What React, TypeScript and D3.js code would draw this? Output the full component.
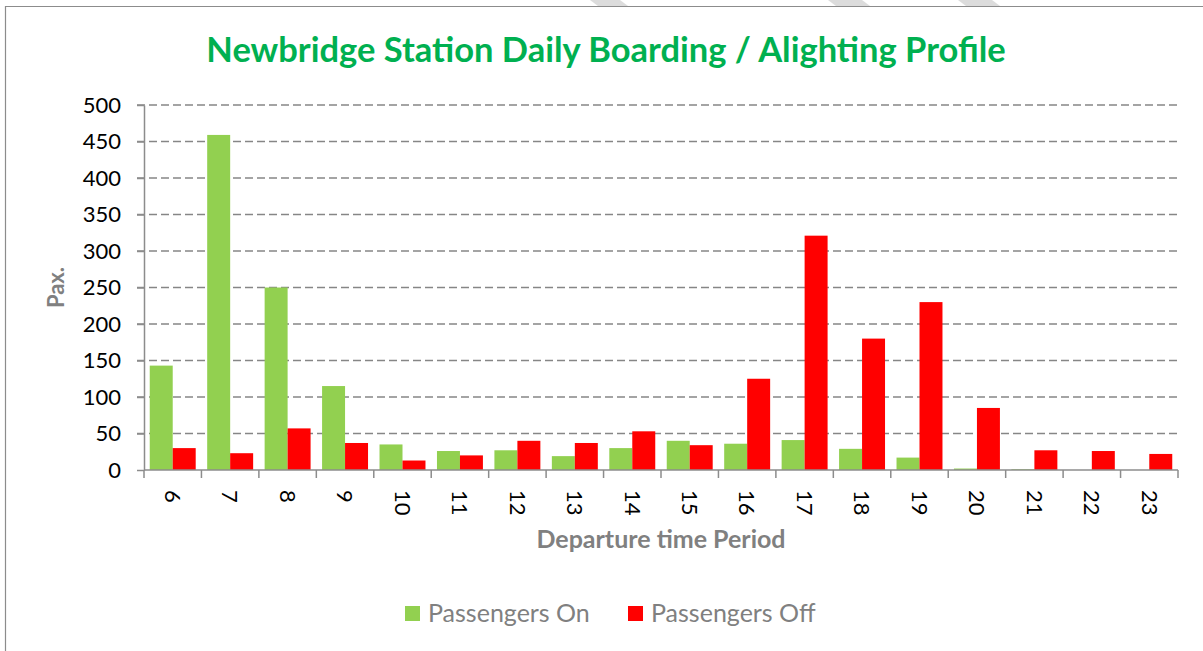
import { useEffect, useRef } from 'react'
import * as d3 from 'd3'

const hours = ['6', '7', '8', '9', '10', '11', '12', '13', '14', '15', '16', '17', '18', '19', '20', '21', '22', '23']
const passengersOn = [143, 459, 250, 115, 35, 26, 27, 19, 30, 40, 36, 41, 29, 17, 2, 1, 0, 0]
const passengersOff = [30, 23, 57, 37, 13, 20, 40, 37, 53, 34, 125, 321, 180, 230, 85, 27, 26, 22]
const yTicks = [0, 50, 100, 150, 200, 250, 300, 350, 400, 450, 500]
const seriesNames = ['Passengers On', 'Passengers Off']
const seriesColors = ['#92D050', '#FF0000']

const FONT = 'Lato, "Open Sans", sans-serif'

export default function App() {
  const svgRef = useRef<SVGSVGElement>(null)
  const width = 1203
  const height = 651
  const margin = { top: 105, right: 25, bottom: 181, left: 144 }

  useEffect(() => {
    const svg = d3.select(svgRef.current)
    svg.selectAll('*').remove()

    const w = width - margin.left - margin.right
    const h = height - margin.top - margin.bottom

    // frame + watermark bits at top
    const stripes = [590, 828, 958]
    svg.selectAll('path.wm')
      .data(stripes)
      .enter()
      .append('path')
      .attr('class', 'wm')
      .attr('d', (d, i) => {
        const wd = i === 0 ? 30 : 34
        return `M${d},0 L${d + wd},0 L${d + wd + 8},6 L${d + 8},6 Z`
      })
      .attr('fill', '#dcdcdc')

    svg.append('line')
      .attr('x1', 5).attr('x2', width).attr('y1', 6.5).attr('y2', 6.5)
      .attr('stroke', '#8c8c8c').attr('stroke-width', 1.2)
    svg.append('line')
      .attr('x1', 5.5).attr('x2', 5.5).attr('y1', 6).attr('y2', height)
      .attr('stroke', '#8c8c8c').attr('stroke-width', 1.2)

    svg.append('text')
      .attr('x', 606)
      .attr('y', 62)
      .attr('text-anchor', 'middle')
      .style('font-family', FONT)
      .style('font-weight', 'bold')
      .style('font-size', '34.5px')
      .style('fill', '#00B050')
      .text('Newbridge Station Daily Boarding / Alighting Profile')

    const g = svg.append('g').attr('transform', `translate(${margin.left},${margin.top})`)

    const x0 = d3.scaleBand().domain(hours).range([0, w]).paddingInner(0.2).paddingOuter(0.1)
    const x1 = d3.scaleBand().domain(seriesNames).range([0, x0.bandwidth()])
    const y = d3.scaleLinear().domain([0, 500]).range([h, 0])

    // gridlines
    g.append('g')
      .selectAll('line')
      .data(yTicks.filter((t) => t > 0))
      .enter()
      .append('line')
      .attr('x1', -7)
      .attr('x2', w)
      .attr('y1', (d) => y(d))
      .attr('y2', (d) => y(d))
      .attr('stroke', '#868686')
      .attr('stroke-width', 1.5)
      .attr('stroke-dasharray', '8,4')

    // bars
    const groups = g.append('g')
      .selectAll('g')
      .data(hours)
      .enter()
      .append('g')
      .attr('transform', (d) => `translate(${x0(d)},0)`)

    groups.selectAll('rect')
      .data((d, i) => [passengersOn[i], passengersOff[i]].map((v, k) => ({ key: seriesNames[k], value: v, color: seriesColors[k] })))
      .enter()
      .append('rect')
      .attr('x', (d) => x1(d.key)!)
      .attr('width', x1.bandwidth())
      .attr('y', (d) => y(d.value))
      .attr('height', (d) => h - y(d.value))
      .attr('fill', (d) => d.color)

    // y axis
    const yAxis = g.append('g')
      .call(d3.axisLeft(y).tickValues(yTicks).tickSize(7).tickSizeOuter(0))
    yAxis.select('.domain').attr('stroke', '#8c8c8c').attr('stroke-width', 1.5)
    yAxis.selectAll('.tick line').attr('stroke', '#8c8c8c').attr('stroke-width', 1.5)
    yAxis.selectAll('.tick text')
      .attr('x', -23)
      .style('font-family', FONT)
      .style('font-size', '22px')
      .style('fill', '#000')

    // x axis: ticks between categories
    const xAxis = g.append('g').attr('transform', `translate(0,${h})`)
    xAxis.append('line')
      .attr('x1', 0).attr('x2', w).attr('y1', 0).attr('y2', 0)
      .attr('stroke', '#8c8c8c').attr('stroke-width', 1.5)
    const step = x0.step()
    xAxis.selectAll('line.tk')
      .data(d3.range(hours.length + 1))
      .enter()
      .append('line')
      .attr('class', 'tk')
      .attr('x1', (i) => i * step)
      .attr('x2', (i) => i * step)
      .attr('y1', 0)
      .attr('y2', 8)
      .attr('stroke', '#8c8c8c')
      .attr('stroke-width', 1.5)
    xAxis.selectAll('text.lbl')
      .data(hours)
      .enter()
      .append('text')
      .attr('class', 'lbl')
      .attr('transform', (d) => `translate(${x0(d)! + x0.bandwidth() / 2},20) rotate(90)`)
      .attr('dy', '0.35em')
      .style('font-family', FONT)
      .style('font-size', '22px')
      .style('fill', '#000')
      .text((d) => d)

    // axis titles
    g.append('text')
      .attr('x', w / 2)
      .attr('y', h + 78)
      .attr('text-anchor', 'middle')
      .style('font-family', FONT)
      .style('font-weight', 'bold')
      .style('font-size', '25px')
      .style('fill', '#808080')
      .text('Departure time Period')

    g.append('text')
      .attr('transform', `translate(-80,${h / 2}) rotate(-90)`)
      .attr('text-anchor', 'middle')
      .style('font-family', FONT)
      .style('font-weight', 'bold')
      .style('font-size', '22px')
      .style('fill', '#808080')
      .text('Pax.')

    // legend
    const legendX = [405, 628]
    const legend = svg.append('g')
    seriesNames.forEach((name, i) => {
      legend.append('rect')
        .attr('x', legendX[i]).attr('y', 606).attr('width', 15).attr('height', 15)
        .attr('fill', seriesColors[i])
      legend.append('text')
        .attr('x', legendX[i] + 23)
        .attr('y', 622)
        .style('font-family', FONT)
        .style('font-size', '25px')
        .style('fill', '#808080')
        .text(name)
    })
  }, [])

  return (
    <svg
      ref={svgRef}
      width={width}
      height={height}
      style={{ position: 'absolute', left: 0, top: 0, background: '#fff' }}
    />
  )
}
